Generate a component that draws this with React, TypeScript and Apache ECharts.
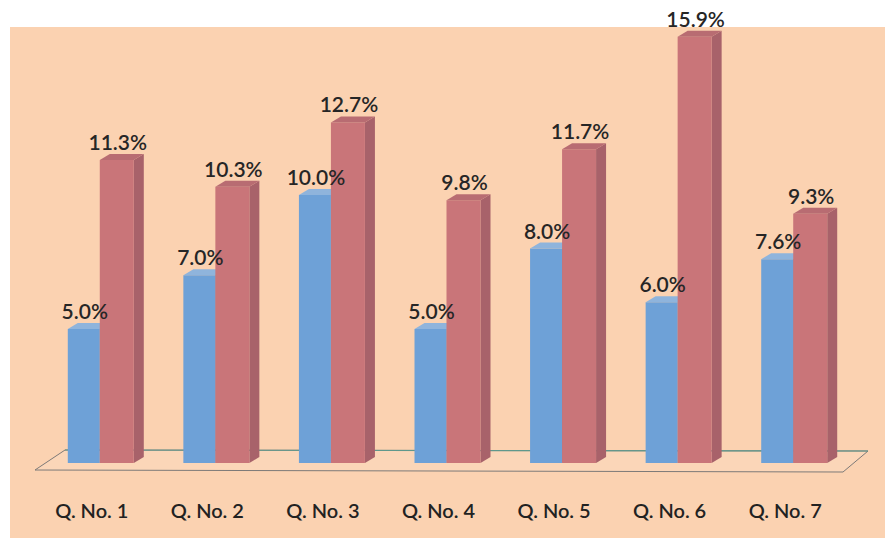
import React, { useEffect, useRef } from "react";
import * as echarts from "echarts";

const categories = ["Q. No. 1", "Q. No. 2", "Q. No. 3", "Q. No. 4", "Q. No. 5", "Q. No. 6", "Q. No. 7"];
const blueValues = [5.0, 7.0, 10.0, 5.0, 8.0, 6.0, 7.6];
const redValues = [11.3, 10.3, 12.7, 9.8, 11.7, 15.9, 9.3];

const FONT = "Lato, 'Open Sans', sans-serif";

function makeRender(offset: number, w: number, front: string, side: string, top: string, shapeZ: number) {
  return (params: any, api: any) => {
    const idx = api.value(0);
    const val = api.value(1);
    const base = api.coord([idx, 0]);
    const tp = api.coord([idx, val]);
    const d = 10;
    const dy = 6;
    const x0 = base[0] + offset;
    const yb = base[1];
    const yt = tp[1];
    return {
      type: "group",
      children: [
        {
          type: "polygon",
          z2: shapeZ,
          shape: { points: [[x0 + w, yt], [x0 + w + d, yt - dy], [x0 + w + d, yb - dy], [x0 + w, yb]] },
          style: { fill: side },
        },
        {
          type: "rect",
          z2: shapeZ,
          shape: { x: x0, y: yt, width: w, height: yb - yt },
          style: { fill: front },
        },
        {
          type: "polygon",
          z2: shapeZ,
          shape: { points: [[x0, yt], [x0 + d, yt - dy], [x0 + w + d, yt - dy], [x0 + w, yt]] },
          style: { fill: top },
        },
        {
          type: "text",
          z2: 100,
          style: {
            text: val.toFixed(1) + "%",
            x: x0 + w / 2 + 1,
            y: yt - dy - 2,
            align: "center",
            verticalAlign: "bottom",
            fill: "#262626",
            font: `600 21px ${FONT}`,
          },
        },
      ],
    };
  };
}

export default function App() {
  const ref = useRef<HTMLDivElement>(null);
  useEffect(() => {
    document.body.style.margin = "0";
    const chart = echarts.init(ref.current!, null, { renderer: "svg" });
    chart.setOption({
      animation: false,
      backgroundColor: "#ffffff",
      graphic: [
        {
          type: "rect",
          z: -10,
          shape: { x: 10, y: 27, width: 875, height: 511 },
          style: { fill: "#fbd2b1" },
        },
        {
          type: "polygon",
          z: -5,
          shape: { points: [[65, 450], [868, 451], [843, 472], [35, 470]] },
          style: { fill: "#fbd6b8", stroke: "#7d7a78", lineWidth: 1 },
        },
        {
          type: "line",
          z: -4,
          shape: { x1: 65, y1: 450, x2: 868, y2: 451 },
          style: { stroke: "#5f988c", lineWidth: 1.2 },
        },
      ],
      grid: { left: 43, right: 33, top: 34, bottom: 75, containLabel: false },
      xAxis: {
        type: "category",
        data: categories,
        axisLine: { show: false },
        axisTick: { show: false },
        axisLabel: {
          margin: 37,
          color: "#222222",
          fontSize: 20,
          fontWeight: 600,
          fontFamily: FONT,
          padding: [0, 18, 0, 0],
        },
      },
      yAxis: {
        type: "value",
        min: 0,
        max: 16,
        show: false,
        splitLine: { show: false },
      },
      series: [
        {
          type: "custom",
          name: "blue",
          renderItem: makeRender(-33, 32, "#6ea1d7", "#5a88b8", "#8fb4dc", 1),
          data: blueValues.map((v, i) => [i, v]),
          encode: { x: 0, y: 1 },
          z: 2,
        },
        {
          type: "custom",
          name: "red",
          renderItem: makeRender(-1, 34, "#c97579", "#a8626a", "#b86c72", 2),
          data: redValues.map((v, i) => [i, v]),
          encode: { x: 0, y: 1 },
          z: 2,
        },
      ],
    });
    return () => chart.dispose();
  }, []);
  return <div ref={ref} style={{ position: "absolute", left: 0, top: 0, width: 885, height: 538 }} />;
}
